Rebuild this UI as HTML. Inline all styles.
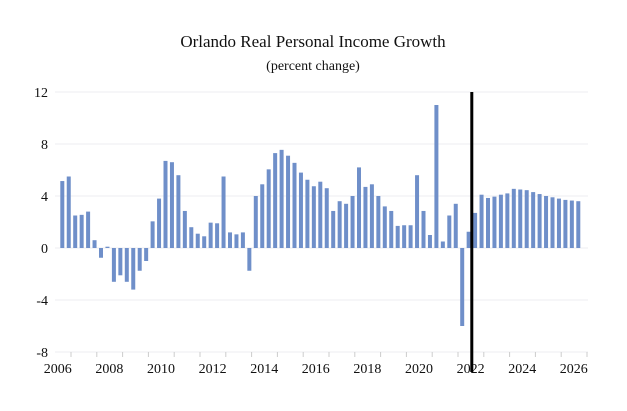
<!DOCTYPE html>
<html><head><meta charset="utf-8"><style>
body{margin:0;background:#fff;}
svg text{font-family:"Liberation Serif",serif;fill:#111;}
</style></head><body>
<svg width="627" height="406">
<text x="313" y="47" text-anchor="middle" font-size="17">Orlando Real Personal Income Growth</text>
<text x="313" y="70" text-anchor="middle" font-size="14">(percent change)</text>
<g id="grid"></g><g id="bars"></g><g id="axes"></g>
</svg>
<script>
const yTicks=[12,8,4,0,-4,-8];
const yearLabels=[2006,2008,2010,2012,2014,2016,2018,2020,2022,2024,2026];
const values=[5.15,5.5,2.5,2.55,2.8,0.6,-0.75,0.1,-2.6,-2.1,-2.6,-3.2,-1.75,-1.0,2.05,3.8,6.7,6.6,5.6,2.85,1.6,1.1,0.9,1.95,1.9,5.5,1.2,1.05,1.2,-1.75,4.0,4.9,6.05,7.3,7.55,7.1,6.55,5.8,5.25,4.75,5.1,4.6,2.85,3.6,3.4,4.0,6.2,4.7,4.9,4.0,3.2,2.85,1.7,1.75,1.75,5.6,2.85,1.0,11.0,0.5,2.5,3.4,-6.0,1.25,2.7,4.1,3.85,3.95,4.1,4.2,4.55,4.5,4.45,4.3,4.15,4.0,3.9,3.8,3.7,3.65,3.6];
const startYear=2006;
const forecastStart=2022;
const NS='http://www.w3.org/2000/svg';
const y=v=>248-13*v;
const xT=t=>62.3+25.8*(t-startYear);
const mk=(p,tag,a)=>{const e=document.createElementNS(NS,tag);for(const k in a)e.setAttribute(k,a[k]);p.appendChild(e);return e;};
const grid=document.getElementById('grid'),bars=document.getElementById('bars'),axes=document.getElementById('axes');
yTicks.forEach(v=>{
 const l=mk(grid,'line',{x1:55,x2:588,y1:y(v),y2:y(v),stroke:'#eceef2','stroke-width':1});
 
 
 const t=mk(axes,'text',{x:48,y:y(v)+5,'text-anchor':'end','font-size':14});
 t.textContent=v;
 
 
});
yearLabels.forEach(yr=>{
 const t=mk(axes,'text',{x:xT(yr)-4.5,y:373,'text-anchor':'middle','font-size':14});
 t.textContent=yr;
 
 
});
for(let yr=startYear;yr<=2026;yr++){
 const l=mk(axes,'line',{x1:xT(yr)+8.7,x2:xT(yr)+8.7,y1:352,y2:357,stroke:'#ccc','stroke-width':1});
 
 
}
values.forEach((v,i)=>{
 const cx=xT(startYear+i/4);
 const r=mk(bars,'rect',{x:cx-2,width:4,y:Math.min(y(v),y(0)),height:Math.abs(y(v)-y(0)),fill:'#6f8fc9'});
 
 
});
const fx=xT(forecastStart)-3.3;
const fl=mk(axes,'line',{x1:fx,x2:fx,y1:92,y2:372,stroke:'#000','stroke-width':3});


</script>
</body></html>
